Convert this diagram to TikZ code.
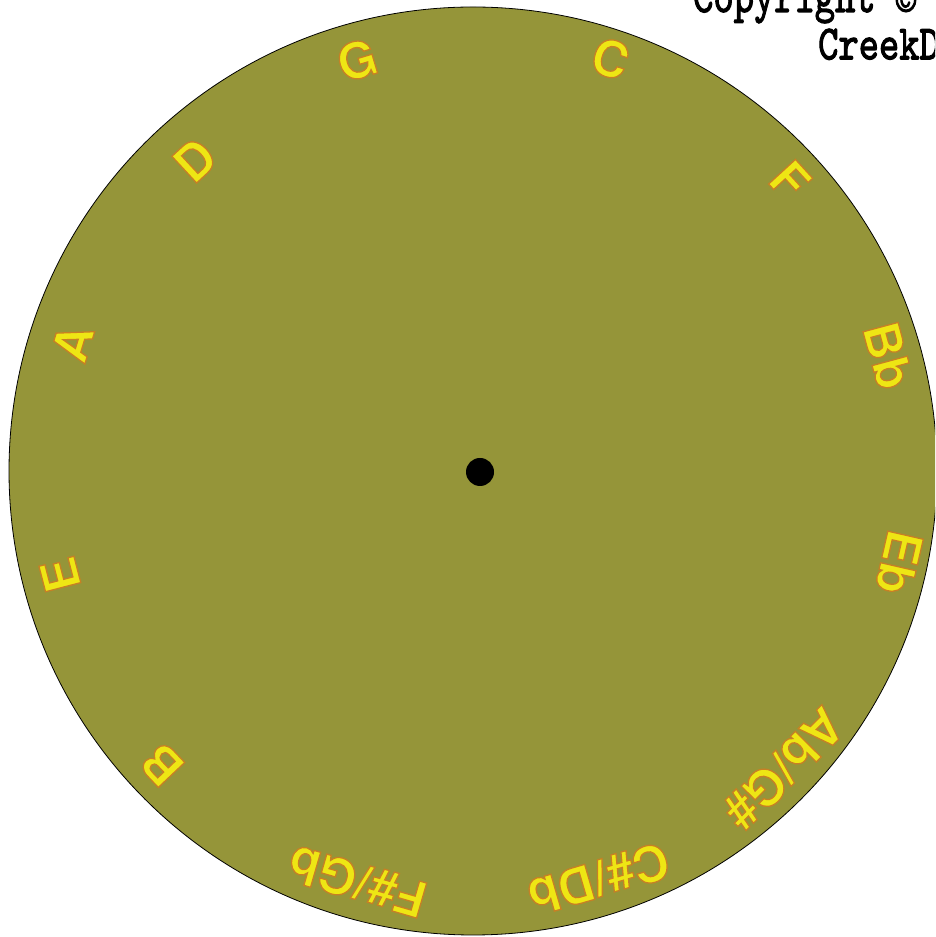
\documentclass[tikz,border=0pt]{standalone}
\usepackage{fontspec}
\setmainfont{Liberation Sans}
\newfontfamily\lblfont{texgyreheros-bold.otf}[FakeBold=2.6]
\newfontfamily\cpyfont{lmmono10-regular.otf}[FakeBold=2.5]
\usetikzlibrary{calc}
\definecolor{discfill}{HTML}{959539}
\definecolor{labelyellow}{HTML}{EEE614}
\newcommand\ylwoutline[1]{\special{pdf:bcolor [0.933 0.902 0.078] [0.78 0.5 0.14]}#1\special{pdf:ecolor}}
\tikzset{
  disc/.style={draw=black, line width=0.8pt, fill=discfill},
  hub/.style={circle, fill=black, inner sep=0pt, minimum size=28pt},
  notelbl/.style={inner sep=0pt, text=labelyellow, font=\lblfont\fontsize{50}{50}\selectfont},
  cpy/.style={inner sep=0pt, anchor=base west, yscale=1.27, font=\cpyfont\fontsize{38.6}{40}\selectfont}
}
\newcommand\notelabel[4]{%
  \node[notelbl, rotate=#2-90] (#1) at ($(lblctr)+(#2:#3)$) {\ylwoutline{#4}};}
\begin{document}
\begin{tikzpicture}[x=1pt,y=1pt]
\useasboundingbox (0,0) rectangle (935,937);
\clip (0,0) rectangle (935,937);
\fill[white] (0,0) rectangle (935,937);
\coordinate (discctr) at (473,466);
\coordinate (lblctr) at (478,471);
\draw[disc] (discctr) circle[radius=464];
\node[hub] (hubdot) at (480,465) {};
\notelabel{nC}{72.0}{428.5}{C}
\notelabel{nF}{42.5}{423}{F}
\notelabel{nBb}{15.1}{424.6}{Bb}
\notelabel{nEb}{-12.9}{432}{Eb}
\notelabel{nAb}{-44.7}{430}{Ab/G\#}
\notelabel{nCs}{-73.7}{430}{C\#/Db}
\notelabel{nFs}{-106.2}{432.6}{F\#/Gb}
\notelabel{nB}{-136.6}{435}{B}
\notelabel{nE}{-165.4}{432}{E}
\notelabel{nA}{163.1}{424}{A}
\notelabel{nD}{132.8}{417}{D}
\notelabel{nG}{106.6}{423.6}{G}
\node[cpy] (cpyline) at (693,925) {Copyright ©};
\node[cpy] (creekline) at (818,877.7) {CreekD};
\end{tikzpicture}
\end{document}
